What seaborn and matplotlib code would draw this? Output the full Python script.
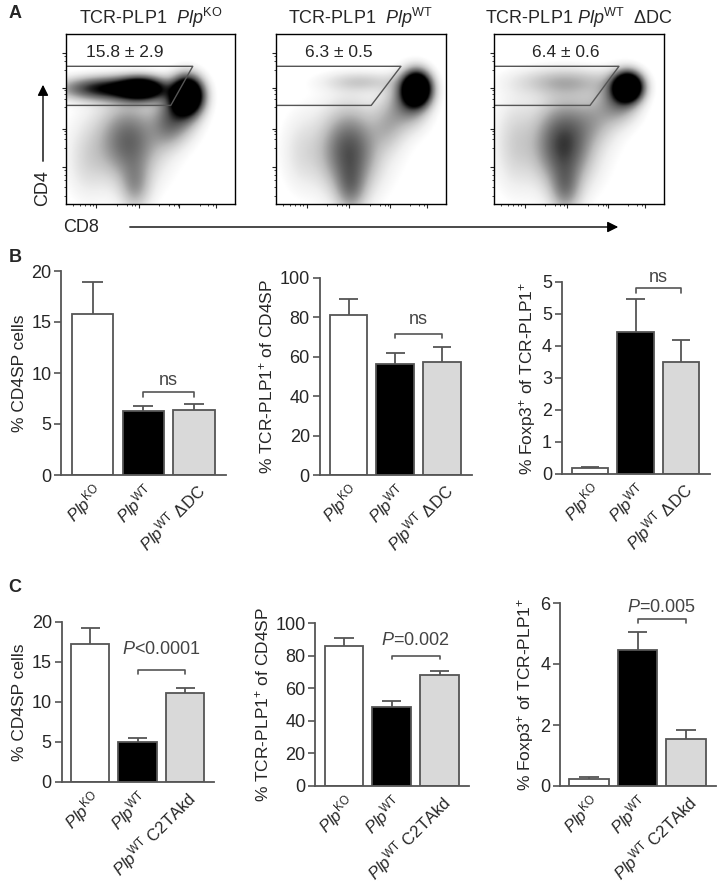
import numpy as np
import pandas as pd
import matplotlib.pyplot as plt
from matplotlib.colors import PowerNorm
import seaborn as sns

sns.set_theme(style='ticks')
plt.rcParams['font.family'] = ['Liberation Sans', 'DejaVu Sans']
plt.rcParams['mathtext.fontset'] = 'custom'
plt.rcParams['mathtext.rm'] = 'Liberation Sans'
plt.rcParams['mathtext.it'] = 'Liberation Sans:italic'
plt.rcParams['mathtext.bf'] = 'Liberation Sans:bold'

# ---- panel A: flow plots (population clusters, axis fractions)
flow_titles = ['TCR-PLP1  $\\mathit{Plp}^{\\mathrm{KO}}$',
               'TCR-PLP1  $\\mathit{Plp}^{\\mathrm{WT}}$',
               'TCR-PLP1 $\\mathit{Plp}^{\\mathrm{WT}}$  \u0394DC']
gate_values = ['15.8 \u00b1 2.9', '6.3 \u00b1 0.5', '6.4 \u00b1 0.6']

# cluster centre x, centre y, spread x, spread y, weight
ko_cx = [0.72, 0.67, 0.25, 0.45, 0.37, 0.41, 0.35, 0.60, 0.12]
ko_cy = [0.64, 0.55, 0.68, 0.68, 0.37, 0.10, 0.35, 0.45, 0.25]
ko_sx = [0.06, 0.08, 0.18, 0.09, 0.12, 0.06, 0.22, 0.07, 0.08]
ko_sy = [0.07, 0.10, 0.045, 0.045, 0.15, 0.10, 0.22, 0.09, 0.15]
ko_w = [1.2, 0.30, 0.55, 0.75, 0.30, 0.17, 0.05, 0.14, 0.07]

wt_cx = [0.83, 0.78, 0.50, 0.43, 0.44, 0.45, 0.66, 0.15]
wt_cy = [0.68, 0.60, 0.72, 0.31, 0.08, 0.35, 0.46, 0.30]
wt_sx = [0.055, 0.08, 0.15, 0.11, 0.06, 0.22, 0.07, 0.08]
wt_sy = [0.065, 0.10, 0.04, 0.16, 0.10, 0.22, 0.10, 0.15]
wt_w = [1.2, 0.28, 0.12, 0.34, 0.18, 0.05, 0.12, 0.07]

dc_cx = [0.79, 0.74, 0.42, 0.41, 0.42, 0.38, 0.60, 0.12]
dc_cy = [0.69, 0.62, 0.72, 0.35, 0.08, 0.38, 0.50, 0.35]
dc_sx = [0.055, 0.08, 0.20, 0.11, 0.06, 0.22, 0.09, 0.08]
dc_sy = [0.055, 0.09, 0.055, 0.16, 0.10, 0.22, 0.10, 0.18]
dc_w = [1.2, 0.28, 0.16, 0.38, 0.20, 0.06, 0.12, 0.09]

# gate: top, bottom, top-right x, bottom-right x
gate_top = [0.81, 0.81, 0.81]
gate_bottom = [0.58, 0.58, 0.58]
gate_top_right = [0.75, 0.735, 0.735]
gate_bottom_right = [0.62, 0.56, 0.565]

# ---- panels B and C: bar data
labels_b = ['$\\mathit{Plp}^{\\mathrm{KO}}$', '$\\mathit{Plp}^{\\mathrm{WT}}$',
            '$\\mathit{Plp}^{\\mathrm{WT}}$ \u0394DC']
labels_c = ['$\\mathit{Plp}^{\\mathrm{KO}}$', '$\\mathit{Plp}^{\\mathrm{WT}}$',
            '$\\mathit{Plp}^{\\mathrm{WT}}$ C2TAkd']

b_cd4sp = [15.8, 6.3, 6.4]
b_cd4sp_err = [3.1, 0.5, 0.6]
b_tcr = [81.4, 56.5, 57.5]
b_tcr_err = [8.0, 5.5, 7.5]
b_foxp3 = [0.19, 4.44, 3.5]
b_foxp3_err = [0.03, 1.03, 0.68]

c_cd4sp = [17.2, 5.0, 11.1]
c_cd4sp_err = [2.0, 0.5, 0.7]
c_tcr = [86.0, 48.6, 68.3]
c_tcr_err = [4.5, 3.7, 2.5]
c_foxp3 = [0.24, 4.45, 1.53]
c_foxp3_err = [0.04, 0.6, 0.3]

b_stats = ['ns', 'ns', 'ns']
c_stats = ['$P$<0.0001', '$P$=0.002', '$P$=0.005']
b_bracket = [8.1, 71.8, 5.8]
c_bracket = [14.0, 80.0, 5.46]
b_stat_y = [9.3, 79.0, 6.15]
c_stat_y = [16.5, 89.0, 5.85]

ylabels = ['% CD4SP cells', '% TCR-PLP1$^{+}$ of CD4SP', '% Foxp3$^{+}$ of TCR-PLP1$^{+}$']

bar_colors = ['white', 'black', '#d9d9d9']
edge = '#555555'

W, H = 719, 889
fig = plt.figure(figsize=(W / 100, H / 100), dpi=100)


def px_axes(left, right, top, bottom):
    return fig.add_axes([left / W, 1 - bottom / H, (right - left) / W, (bottom - top) / H])


# ---------------- panel A
flow_sets = [(ko_cx, ko_cy, ko_sx, ko_sy, ko_w),
             (wt_cx, wt_cy, wt_sx, wt_sy, wt_w),
             (dc_cx, dc_cy, dc_sx, dc_sy, dc_w)]
flow_boxes = [(66, 235), (276, 446), (494, 664)]
value_x = [0.35, 0.37, 0.42]

grid = np.linspace(0, 1, 220)
gx, gy = np.meshgrid(grid, grid)

for i, (left, right) in enumerate(flow_boxes):
    ax = px_axes(left, right, 34, 204)
    cx, cy, sx, sy, w = flow_sets[i]
    dens = np.zeros_like(gx)
    for k in range(len(cx)):
        dens += w[k] * np.exp(-0.5 * ((gx - cx[k]) / sx[k]) ** 2 - 0.5 * ((gy - cy[k]) / sy[k]) ** 2)
    dens = np.clip(dens - 0.02, 0, None)
    ax.imshow(dens, extent=(0, 1, 0, 1), origin='lower', aspect='auto', cmap='Greys',
              norm=PowerNorm(gamma=0.75, vmin=0, vmax=0.55), interpolation='bilinear')
    gate_x = [0, gate_top_right[i], gate_bottom_right[i], 0]
    gate_y = [gate_top[i], gate_top[i], gate_bottom[i], gate_bottom[i]]
    ax.plot(gate_x, gate_y, color='#555555', lw=1.0)
    ax.text(value_x[i], 0.89, gate_values[i], ha='center', va='center', fontsize=12.5)
    ax.set_xlim(0, 1)
    ax.set_ylim(0, 1)
    for s in ax.spines.values():
        s.set_color('black')
        s.set_linewidth(1.0)
    ax.set_xticks([0.18, 0.43, 0.67, 0.89])
    ax.set_yticks([0.22, 0.44, 0.68, 0.89])
    ax.set_xticks(np.array([0.04, 0.08, 0.11, 0.14, 0.16, 0.3, 0.36, 0.39, 0.41,
                            0.55, 0.61, 0.64, 0.66, 0.79, 0.84, 0.87]), minor=True)
    ax.set_yticks(np.array([0.05, 0.1, 0.14, 0.17, 0.2, 0.33, 0.38, 0.41, 0.43,
                            0.57, 0.62, 0.65, 0.67, 0.79, 0.84, 0.87]), minor=True)
    ax.tick_params(which='major', length=3, width=0.8, labelbottom=False, labelleft=False)
    ax.tick_params(which='minor', length=1.5, width=0.6)
    ax.set_title(flow_titles[i], fontsize=13, pad=7)


# ---------------- panels B, C
def bar_panel(left_c0, spacing, xlim, top, bottom, ymax, means, errs, labels, color_list,
              yticks, yticklabels, ylabel, bracket, stat, stat_y):
    left = left_c0 + xlim[0] * spacing
    right = left_c0 + xlim[1] * spacing
    ax = px_axes(left, right, top, bottom)
    df = pd.DataFrame({'group': ['g0', 'g1', 'g2'], 'value': means})
    sns.barplot(data=df, x='group', y='value', hue='group', palette=color_list, legend=False,
                width=0.81, edgecolor=edge, linewidth=1.3, errorbar=None, ax=ax)
    tops = np.array(means) + np.array(errs)
    xs = np.arange(3)
    ax.vlines(xs, means, tops, color=edge, lw=1.3)
    ax.hlines(tops, xs - 0.2, xs + 0.2, color=edge, lw=1.3)
    drop = 0.022 * ymax
    ax.plot([1, 1, 2, 2], [bracket - drop, bracket, bracket, bracket - drop],
            color=edge, lw=1.2, clip_on=False)
    ax.text(1.5, stat_y, stat, ha='center', va='center', fontsize=13, color='#444444')
    ax.set_xlim(*xlim)
    ax.set_ylim(0, ymax)
    ax.set_yticks(yticks)
    ax.set_yticklabels(yticklabels, fontsize=13)
    ax.set_xticks(xs)
    ax.set_xticklabels(labels, rotation=45, ha='right', rotation_mode='anchor', fontsize=12)
    ax.set_xlabel('')
    ax.set_ylabel(ylabel, fontsize=12.5, labelpad=3)
    sns.despine(ax=ax)
    for s in ['left', 'bottom']:
        ax.spines[s].set_color(edge)
        ax.spines[s].set_linewidth(1.3)
    ax.tick_params(axis='y', length=5, width=1.2, color=edge, pad=2)
    ax.tick_params(axis='x', length=0, pad=4)
    return ax


xl_b = (-0.62, 2.64)
bar_panel(92.5, 50.75, xl_b, 271, 475, 20, b_cd4sp, b_cd4sp_err, labels_b, bar_colors,
          [0, 5, 10, 15, 20], ['0', '5', '10', '15', '20'], ylabels[0], b_bracket[0], b_stats[0], b_stat_y[0])
bar_panel(348.5, 46.75, xl_b, 278, 475, 100, b_tcr, b_tcr_err, labels_b, bar_colors,
          [0, 20, 40, 60, 80, 100], ['0', '20', '40', '60', '80', '100'], ylabels[1],
          b_bracket[1], b_stats[1], b_stat_y[1])
bar_panel(590, 45.5, xl_b, 282, 474, 6, b_foxp3, b_foxp3_err, labels_b, bar_colors,
          [0, 1, 2, 3, 4, 5, 6], ['0', '1', '2', '3', '4', '5', '5'], ylabels[2],
          b_bracket[2], b_stats[2], b_stat_y[2])

xl_c = (-0.6, 2.62)
bar_panel(90, 47.5, xl_c, 622, 782, 20, c_cd4sp, c_cd4sp_err, labels_c, bar_colors,
          [0, 5, 10, 15, 20], ['0', '5', '10', '15', '20'], ylabels[0], c_bracket[0], c_stats[0], c_stat_y[0])
bar_panel(344, 47.75, xl_c, 623, 786, 100, c_tcr, c_tcr_err, labels_c, bar_colors,
          [0, 20, 40, 60, 80, 100], ['0', '20', '40', '60', '80', '100'], ylabels[1],
          c_bracket[1], c_stats[1], c_stat_y[1])
bar_panel(589, 48.5, xl_c, 603, 786, 6, c_foxp3, c_foxp3_err, labels_c, bar_colors,
          [0, 2, 4, 6], ['0', '2', '4', '6'], ylabels[2], c_bracket[2], c_stats[2], c_stat_y[2])

# ---------------- overlay for panel letters and axis arrows
ov = fig.add_axes([0, 0, 1, 1])
ov.set_xlim(0, W)
ov.set_ylim(H, 0)
ov.axis('off')
ov.patch.set_visible(False)
for letter, y in [('A', 13), ('B', 258), ('C', 587)]:
    ov.text(15, y, letter, fontsize=13, fontweight='bold', ha='center', va='center')
ov.text(43, 188, 'CD4', rotation=90, fontsize=13, ha='center', va='center')
ov.annotate('', xy=(43, 82), xytext=(43, 164),
            arrowprops=dict(arrowstyle='-|>', color='black', lw=1.0, mutation_scale=16))
ov.text(63, 228, 'CD8', fontsize=13, ha='left', va='center')
ov.annotate('', xy=(621, 227), xytext=(127, 227),
            arrowprops=dict(arrowstyle='-|>', color='black', lw=1.0, mutation_scale=16))

fig.savefig('out.png', dpi=100)
